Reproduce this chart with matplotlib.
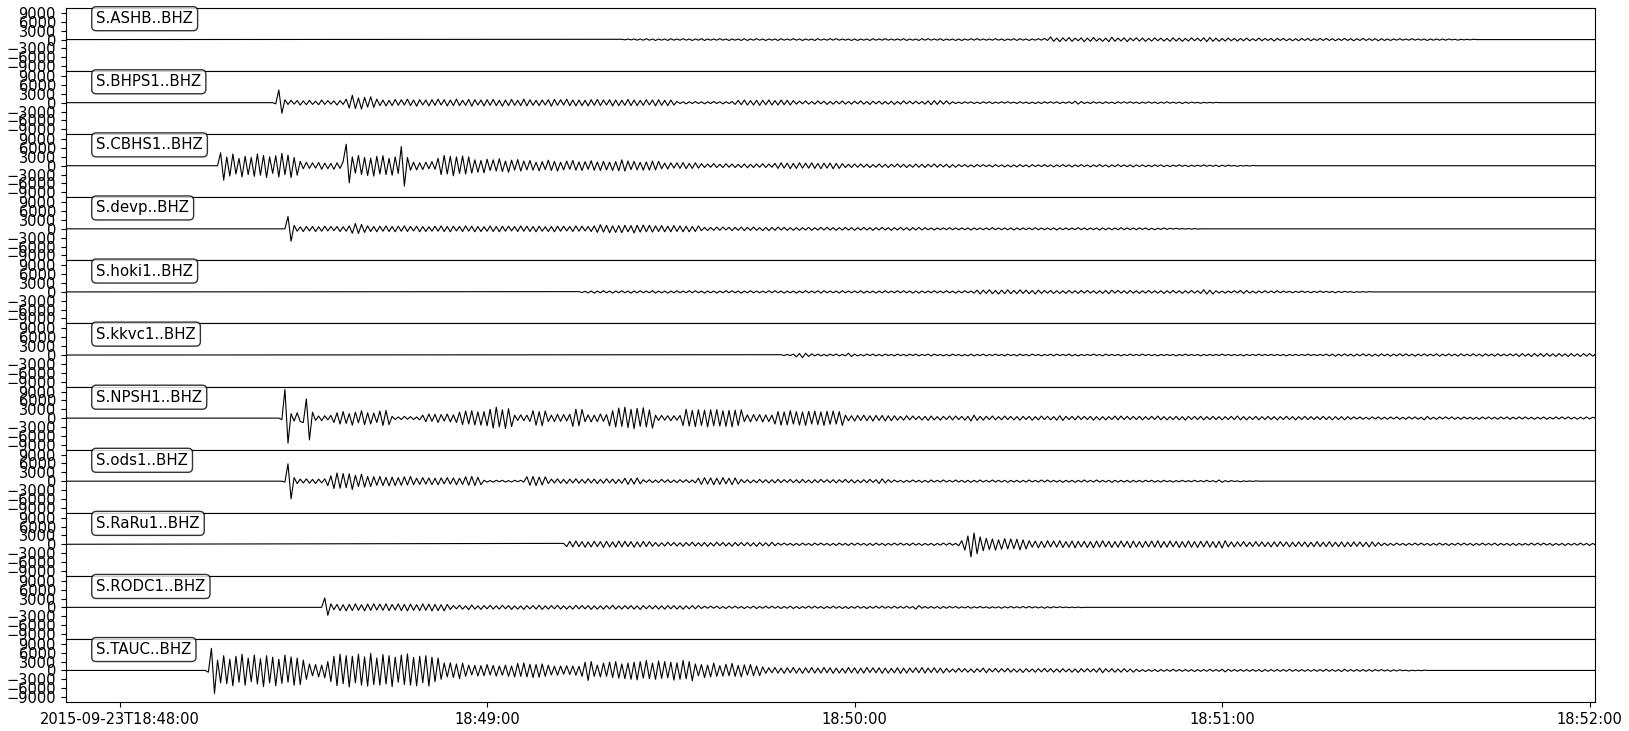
import numpy as np
import matplotlib
matplotlib.use("Agg")
import matplotlib.pyplot as plt

# ---------------------------------------------------------------- data
trace_ids = ["S.ASHB..BHZ", "S.BHPS1..BHZ", "S.CBHS1..BHZ", "S.devp..BHZ",
             "S.hoki1..BHZ", "S.kkvc1..BHZ", "S.NPSH1..BHZ", "S.ods1..BHZ",
             "S.RaRu1..BHZ", "S.RODC1..BHZ", "S.TAUC..BHZ"]

# time of first listed sample, seconds after 2015-09-23T18:48:00
onsets_s = [82.0, 25.0, 16.0, 27.0, 75.0, 108.0, 26.0, 26.5, 72.5, 33.0, 14.0]
sample_step_s = 0.5          # spacing of the listed (decimated) samples
window_s = (-8.8, 240.95)    # plotted time window
tick_seconds = [0, 60, 120, 180, 240]
tick_labels = ["2015-09-23T18:48:00", "18:49:00", "18:50:00", "18:51:00", "18:52:00"]
ytick_values = [-9000, -6000, -3000, 0, 3000, 6000, 9000]
y_limit = 10700

# samples in hundreds of counts
ashb_h = [
    1,-1,2,-1,2,-2,2,-2,3,-2, 2,-3,2,-2,2,-3,3,-2,2,-2, 3,-2,2,-3,2,-2,3,-3,2,-2,
    2,-2,3,-2,2,-3,2,-2,2,-3, 3,-3,2,-2,3,-2,2,-3,2,-2, 2,-3,3,-2,2,-2,3,-2,2,-3,
    2,-2,2,-3,3,-2,2,-2,3,-2, 3,-2,2,-2,2,-3,2,-3,2,-2, 2,-3,3,-2,2,-2,3,-2,2,-2,
    2,-2,3,-3,2,-2,2,-3,3,-2, 3,-2,2,-2,3,-3,2,-2,2,-3, 2,-3,2,-2,3,-2,3,-2,2,-2,
    2,-2,3,-2,2,-3,2,-2,3,-3, 3,-2,2,-3,2,-2,3,-2,4,-3, 9,-6,5,-7,6,-5,7,-6,5,-4,
    6,-7,5,-6,7,-5,4,-6,5,-7, 8,-6,5,-5,6,-7,5,-4,6,-5, 5,-6,4,-5,6,-4,5,-5,4,-6,
    6,-5,5,-6,4,-5,6,-4,5,-5, 6,-7,7,-6,5,-6,4,-5,5,-4, 4,-5,4,-4,5,-4,3,-4,5,-4,
    4,-3,4,-5,4,-3,4,-4,3,-4, 3,-4,4,-3,4,-4,3,-3,4,-3, 4,-3,3,-4,3,-3,4,-3,3,-4,
    3,-3,4,-3,3,-3,3,-4,3,-3, 2,-3,2,-2,3,-2,2,-2,3,-2, 2,-2,2,-3,2,-2,2,-2,2,-2,
    2,-1,1,-2,1,-1,1,-1,1,0]
bhps1_h = [
    0,-4,43,-36,10,-6,8,-5,7,-8, 6,-7,8,-6,5,-7,9,-6,7,-5, 6,-8,7,-6,12,-18,25,-20,16,-22,
    18,-15,20,-16,12,-10,9,-11,8,-10, 11,-9,10,-8,12,-10,9,-12,10,-8, 9,-11,10,-9,12,-8,10,-11,9,-10,
    12,-10,8,-9,11,-12,10,-8,9,-11, 10,-9,11,-10,8,-12,9,-10,11,-9, 8,-10,12,-11,10,-9,8,-10,9,-8,
    10,-12,11,-9,10,-8,12,-10,9,-11, 9,-10,8,-11,10,-9,11,-10,9,-8, 10,-11,9,-10,8,-9,11,-10,9,-10,
    8,-9,10,-8,9,-11,10,-9,8,-10, 9,-8,4,-3,3,-4,3,-3,4,-3, 3,-4,3,-3,4,-3,3,-4,3,-3,
    4,-6,8,-7,9,-8,7,-8,8,-9, 8,-7,9,-8,7,-8,9,-7,8,-8, 7,-5,5,-4,6,-5,4,-5,6,-4,
    5,-6,4,-5,5,-4,6,-5,4,-5, 5,-4,6,-5,4,-6,5,-4,5,-5, 4,-5,5,-6,4,-5,6,-4,5,-4,
    5,-4,4,-5,6,-7,7,-6,7,-5, 6,-5,3,-3,2,-3,3,-2,3,-3, 2,-3,3,-2,3,-3,2,-2,3,-2,
    3,-2,2,-3,3,-2,2,-3,2,-3, 2,-3,3,-2,3,-2,3,-3,2,-2, 3,-3,5,-5,4,-3,2,-3,3,-2,
    2,-3,3,-2,2,-3,3,-2,3,-2, 3,-2,2,-3,2,-2,3,-2,2,-3, 2,-2,3,-2,2,-2,2,-3,2,-2,
    2,-1,1,-2,1,-1,1,-1,1,0]
cbhs1_h = [
    0,44,-49,30,-35,40,-28,25,-38,32, -30,28,-36,40,-32,35,-40,30,-26,34,
    -38,42,-30,36,-40,28,-32,15,-10,12, -9,10,-8,11,-12,9,-10,8,-12,10,
    -9,14,73,-58,30,-25,35,-30,28,-33, 26,-35,32,-28,34,-30,25,-32,30,-26,
    65,-69,28,-15,12,-14,10,-13,12,-10, 14,-12,25,-30,35,-28,32,-34,30,-26,
    33,-28,30,-25,20,-22,18,-24,22,-16, 20,-18,24,-20,16,-22,19,-15,21,-18,
    16,-14,18,-15,12,-17,14,-13,19,-16, 15,-18,12,-14,16,-12,18,-15,13,-16,
    14,-12,17,-15,13,-16,15,-14,12,-16, 14,-17,20,-18,16,-13,15,-14,12,-15,
    13,-15,16,-14,15,-10,9,-11,10,-8, 10,-9,11,-10,8,-9,10,-8,7,-6,
    6,-5,7,-6,5,-6,7,-5,6,-6, 5,-6,6,-7,5,-6,6,-5,7,-6, 6,-5,8,-9,10,-8,9,-10,8,-9,
    10,-8,9,-8,10,-9,8,-10,9,-8, 9,-10,8,-9,7,-6,5,-6,6,-5, 6,-5,5,-6,4,-5,6,-5,5,-6,
    5,-4,6,-5,5,-6,4,-5,6,-5, 5,-6,5,-4,6,-5,5,-4,5,-6, 4,-5,4,-3,4,-4,3,-4,4,-3,
    4,-3,3,-4,4,-3,3,-4,3,-4, 3,-4,4,-3,3,-4,4,-3,3,-3, 4,-3,3,-4,3,-3,4,-3,3,-4,
    3,-3,4,-3,3,-4,3,-3,4,-3, 3,-4,3,-3,4,-3,3,-3,3,-4, 3,-3,3,-3,2,-3,3,-2,3,-3,
    2,-3,2,-2,3,-2,2,-3,2,-2, 2,-2,3,-2,2,-2,2,-3,2,-2, 2,-1,1,-2,1,-1,1,-1,1,0]
devp_h = [
    0,42,-42,12,-8,7,-9,8,-7,8, -9,7,-8,9,-7,8,-6,8,-9,7, -8,10,-15,18,-16,15,-12,10,-9,8,
    -10,9,-8,10,-9,8,-10,9,-8,10, -9,8,-7,9,-10,8,-9,7,-8,9, -8,10,-9,8,-10,9,-7,8,-9,10,
    -8,9,-10,8,-9,7,-8,10,-9,8, -10,9,-8,9,-7,8,-9,10,-8,9, -9,8,-10,9,-8,7,-9,8,-10,9,
    -8,9,-7,8,-9,10,-8,9,-7,8, -9,10,-12,14,-11,12,-13,10,-12,11, -13,12,-10,11,-14,12,-11,13,-10,12,
    -11,10,-9,11,-10,9,-10,11,-9,10, -10,9,-10,8,-9,10,-6,5,-6,5, -5,6,-5,6,-4,5,-6,5,-5,6,
    -6,5,-5,6,-5,4,-6,5,-6,5, -5,6,-4,5,-5,4,-5,4,-5,4, -4,5,-5,4,-4,5,-4,5,-4,4,
    -5,4,-4,5,-4,4,-5,4,-4,5, -4,4,-5,4,-4,5,-4,4,-5,4, -4,5,-4,4,-5,4,-4,5,-4,4,
    -3,3,-4,3,-3,3,-3,4,-3,3, -3,3,-3,3,-4,3,-3,3,-3,3, -3,4,-3,3,-3,3,-3,3,-4,3,
    -3,3,-3,3,-3,4,-3,3,-3,3, -3,3,-4,3,-3,3,-3,3,-3,4, -3,3,-3,3,-3,3,-4,3,-3,3,
    -3,3,-3,4,-3,3,-3,3,-3,3, -2,3,-3,2,-3,2,-2,3,-2,2, -1,2,-1,1,-1,1,-1,1,-1,0]
hoki1_h = [
    1,-2,2,-3,3,-4,3,-3,4,-3, 3,-4,3,-3,4,-3,3,-4,3,-3, 4,-3,3,-3,4,-4,3,-3,3,-4,
    3,-3,4,-3,3,-3,4,-3,4,-3, 3,-4,3,-3,3,-4,3,-3,4,-3, 4,-3,3,-4,3,-3,4,-3,3,-3,
    3,-3,4,-3,4,-3,3,-4,3,-3, 3,-4,3,-3,4,-3,3,-3,4,-4, 4,-3,3,-3,3,-4,4,-3,3,-3,
    3,-3,4,-4,3,-3,3,-4,3,-3, 4,-3,3,-3,4,-3,4,-3,3,-4, 3,-4,3,-3,3,-3,4,-3,3,-3,
    4,-3,3,-4,3,-3,4,-3,3,-4, 6,-7,6,-5,7,-6,5,-7,6,-6, 7,-6,5,-6,7,-5,6,-6,5,-7,
    6,-5,5,-4,5,-5,4,-5,4,-5, 5,-4,4,-5,5,-4,5,-4,4,-5, 4,-5,5,-6,6,-4,5,-4,4,-5,
    5,-4,4,-5,4,-4,5,-4,4,-4, 4,-5,4,-4,5,-4,4,-5,4,-4, 5,-4,4,-5,7,-7,6,-7,4,-4,
    3,-4,3,-3,4,-3,5,-5,5,-4, 3,-4,3,-3,4,-3,3,-3,4,-3, 3,-2,2,-3,2,-2,3,-2,2,-3,
    2,-2,3,-2,2,-2,2,-3,2,-2, 2,-1,1,-2,1,-1,1,-1,1,0]
kkvc1_h = [
    1,-2,2,-2,3,-6,5,-9,6,-5, 4,-3,3,-3,2,-3,3,-2,3,-3, 2,-3,6,-5,3,-3,2,-3,3,-2,
    3,-3,2,-3,3,-2,2,-3,3,-2, 2,-3,3,-2,3,-3,2,-2,3,-3, 3,-2,2,-3,2,-3,3,-2,2,-3,
    2,-3,3,-3,2,-2,3,-3,2,-2, 3,-2,2,-3,3,-2,2,-3,3,-2, 2,-3,3,-2,2,-3,2,-2,3,-3,
    3,-2,2,-2,3,-3,2,-3,2,-2, 2,-2,3,-2,2,-3,3,-2,2,-2, 2,-3,2,-2,3,-2,2,-2,3,-2,
    2,-2,2,-3,2,-2,2,-2,2,-3, 2,-2,3,-2,2,-2,2,-3,2,-2, 2,-2,2,-2,3,-2,2,-2,2,-2,
    2,-3,2,-2,2,-2,3,-2,2,-2, 2,-2,2,-2,2,-3,2,-2,2,-2, 2,-2,3,-2,2,-2,2,-2,3,-3,
    3,-4,3,-3,4,-3,3,-4,3,-3, 4,-3,3,-4,3,-4,4,-3,3,-4, 3,-3,4,-3,4,-3,3,-4,3,-3,
    4,-3,3,-3,4,-4,3,-3,4,-3, 3,-4,4,-3,3,-3,4,-3,3,-4, 4,-3,3,-4,4,-3,3,-3,4,-3,
    4,-5,5,-4,4,-5,5,-4,5,-5, 5,-4,4,-5,5,-4,4,-5,5,-4, 4,-5,5,-4,5,-4,4]
npsh1_h = [
    0,-5,97,-85,15,-10,18,-12,-15,65, -74,20,-8,7,-9,8,-6,9,-15,18,
    -20,22,-18,15,-24,20,-16,25,-22,18, -20,17,-15,24,-25,26,-22,6,-5,4,
    -5,6,-4,5,-5,4,-6,10,-12,14, -11,13,-15,12,-10,14,-13,11,-15,20,
    -22,24,-20,25,-23,21,-24,22,-26,30, -34,37,-30,28,-35,32,-29,10,-8,11,
    -9,10,-12,25,-24,22,-26,24,-12,10, -12,13,-11,12,-10,13,-28,30,-26,29,
    -12,11,-13,10,-12,14,-11,12,-26,25, -30,34,-28,37,-32,30,-36,33,-28,35,
    -30,28,-34,10,-8,9,-7,8,-9,8, -7,9,-25,30,-27,26,-29,28,-25,27,
    -30,28,-26,29,-27,25,-28,26,-30,27, -25,28,-12,11,-13,12,-10,12,-13,11,
    -12,10,-20,22,-24,21,-23,25,-20,22, -24,21,-25,23,-20,24,-22,21,-25,23,
    -21,24,-20,22,-25,10,-9,8,-10,9, -8,10,-9,8,-10,9,-8,9,-10,8,
    -9,8,-7,6,-7,8,-6,7,-5,6, -7,6,-8,7,-6,5,-7,6,-5,7, -6,7,-5,6,-7,6,-10,10,-8,6,
    -7,6,-5,7,-6,5,-6,7,-5,6, -6,5,-7,6,-5,6,-7,5,-6,7, -5,6,-6,5,-7,8,-8,6,-5,6,
    -6,7,-5,6,-5,6,-7,5,-6,5, -6,5,-5,7,-6,7,-5,6,-5,6, -5,6,-6,5,-5,6,-5,7,-6,5,
    -6,5,-5,6,-6,5,-7,6,-5,6, -5,6,-6,5,-5,6,-5,5,-6,5, -5,6,-5,7,-6,5,-6,5,-5,6,
    -6,5,-5,6,-5,5,-6,5,-5,6, -5,5,-6,5,-5,6,-5,5,-5,5, -5,6,-5,5,-6,5,-5,5,-6,5,
    -4,4,-3,4,-4,3,-4,4,-3,4, -4,3,-4,4,-3,4,-4,3,-4,4, -3,4,-4,3,-6,6,-4,3,-4,4,
    -3,4,-3,4,-4,3,-4,4,-3,3, -4,3,-4,4,-3,4,-3,3,-4,4, -3,4,-4,3,-3,4,-3,4,-3,3,
    -4,3,-3,4,-4,3,-3,4,-3,4, -3,4,-3,3,-4,3,-3,4,-3,3]
ods1_h = [
    0,-3,59,-60,12,-8,7,-6,8,-7, 6,-8,7,-6,8,-15,18,-25,28,-24,
    26,-22,25,-28,20,-18,24,-20,16,-18, 15,-14,16,-15,13,-16,14,-15,12,-14,
    15,-13,16,-12,10,-11,12,-10,11,-12, 10,-12,11,-9,12,-10,11,-12,10,-11,
    15,-14,16,-15,13,-12,3,-3,2,-3, 3,-2,3,-3,2,-3,3,-2,3,-3,
    15,-14,16,-15,14,-13,15,-8,7,-6, 8,-7,6,-8,7,-6,8,-7,6,-7,
    8,-6,7,-8,6,-7,8,-6,7,-8, 6,-7,10,-11,9,-10,11,-9,5,-4,
    5,-5,4,-5,6,-4,5,-5,4,-5, 5,-4,5,-5,4,-6,10,-11,12,-10,
    11,-12,10,-11,12,-9,10,-12,11,-10, 6,-5,5,-6,4,-5,6,-5,5,-6,
    5,-6,6,-5,5,-4,6,-5,5,-6, 6,-5,4,-6,5,-5,6,-4,5,-5, 5,-6,5,-4,6,-5,5,-6,4,-5,
    5,-5,6,-4,5,-8,8,-6,5,-4, 4,-3,3,-4,3,-3,4,-3,3,-4, 3,-4,4,-3,3,-3,4,-3,3,-3,
    4,-3,3,-4,3,-4,3,-3,4,-3, 3,-3,4,-3,3,-3,3,-4,3,-3, 3,-4,3,-3,4,-3,3,-3,4,-3,
    4,-3,3,-3,3,-4,3,-3,3,-4, 3,-3,4,-3,3,-3,4,-3,3,-3, 3,-4,3,-3,3,-3,3,-4,3,-3,
    3,-3,3,-2,3,-3,2,-3,3,-2, 2,-3,2,-2,3,-2,2,-2,3,-2, 2,-2,3,-2,2,-3,4,-4,2,-2,
    2,-1,1,-2,1,-1,1,-1,1,0]
raru1_h = [
    3,-8,10,-9,11,-8,9,-10,8,-9, 10,-8,9,-11,10,-9,8,-10,11,-9, 10,-8,9,-10,8,-9,10,-8,9,-7,
    6,-7,5,-6,7,-5,6,-6,5,-7, 6,-5,7,-6,5,-6,6,-7,5,-6, 7,-5,6,-6,5,-7,6,-5,6,-5,
    6,-6,5,-7,6,-5,5,-6,7,-5, 4,-3,4,-3,3,-4,3,-4,4,-3, 3,-4,4,-3,4,-3,3,-4,3,-4,
    4,-3,3,-4,4,-3,4,-3,3,-4, 3,-4,4,-3,3,-4,3,-3,4,-3, 4,-3,3,-4,4,-3,3,-4,3,-3,
    3,-4,3,-3,4,-3,4,-3,3,-5, 12,-20,28,-43,38,-32,25,-22,20,-18,
    18,-20,15,-17,19,-16,18,-15,17,-19, 15,-16,12,-10,11,-12,10,-11,12,-9,
    11,-10,12,-11,9,-10,11,-12,10,-9, 10,-11,9,-12,11,-10,12,-9,10,-11,
    9,-10,11,-9,10,-12,11,-10,9,-11, 10,-9,11,-10,12,-11,9,-10,11,-9,
    10,-11,9,-10,11,-10,9,-11,10,-9, 11,-10,9,-11,10,-13,12,-9,8,-9,
    8,-7,9,-8,7,-8,9,-7,8,-8, 7,-9,8,-8,9,-7,8,-9,7,-8, 8,-7,8,-9,7,-8,9,-8,7,-8,
    9,-8,7,-8,8,-9,7,-8,8,-7, 8,-8,7,-9,8,-7,6,-5,4,-4, 3,-4,4,-3,3,-4,3,-3,4,-3,
    4,-3,3,-4,3,-3,4,-3,3,-4, 3,-3,4,-3,4,-3,3,-4,3,-3, 4,-3,3,-3,4,-4,3,-3,3,-4,
    3,-4,3,-3,3,-3,4,-3,4,-3, 4,-3,3,-4,3,-3,3,-4,3,-3, 3,-3,4,-3,3,-4,3,-3]
rodc1_h = [
    0,32,-27,12,-8,10,-11,9,-12,10, -11,12,-10,9,-12,11,-10,12,-9,11,
    -10,12,-11,10,-9,12,-11,10,-12,11, -10,9,-11,12,-10,11,-12,10,-11,9,
    -12,10,-7,6,-5,7,-6,5,-8,8, -6,5,-7,6,-5,7,-6,5,-6,7, -5,6,-7,5,-6,5,-7,6,-5,6,
    -6,7,-7,5,-6,6,-5,7,-6,5, -6,5,-6,7,-5,6,-5,6,-7,5, -6,5,-6,6,-5,7,-6,5,-6,6,
    -5,6,-6,5,-7,6,-5,6,-5,6, -6,5,-6,6,-5,6,-6,5,-6,5, -5,6,-5,6,-4,4,-3,4,-3,4,
    -4,3,-4,4,-3,4,-3,3,-4,3, -3,4,-4,3,-3,4,-3,4,-3,3, -4,3,-3,4,-4,3,-4,3,-3,4,
    -3,4,-3,3,-4,3,-3,4,-3,3, -4,3,-4,3,-3,4,-3,3,-4,3, -3,4,-3,4,-3,3,-3,4,-3,3,
    -3,4,-3,3,-6,6,-3,3,-3,3, -3,3,-4,3,-3,3,-2,3,-3,2, -2,3,-3,2,-2,3,-2,2,-3,2,
    -2,2,-3,2,-2,3,-2,2,-2,3, -2,3,-2,2,-2,2,-3,2,-2,2, -1,2,-1,1,-1,1,-1,1,-1,0]
tauc_h = [
    0,-6,75,-78,35,-42,50,-45,38,-52, 48,-40,55,-50,42,-38,52,-46,40,-55,
    50,-42,45,-52,38,-44,52,-40,46,-50, 42,-48,35,-30,22,-18,20,-22,18,-25,
    30,-38,48,-52,55,-45,50,-56,48,-42, 55,-50,46,-53,58,-48,42,-50,54,-46,
    50,-55,45,-40,52,-48,56,-50,44,-52, 48,-42,50,-53,45,-38,42,-30,25,-22,
    26,-24,22,-28,25,-20,18,-15,17,-19, 16,-18,20,-15,17,-19,15,-16,18,-20,
    15,-22,24,-20,25,-22,21,-24,20,-23, 22,-20,18,-15,14,-16,15,-13,16,-14,
    15,-16,14,-20,28,-34,30,-20,18,-22, 25,-20,28,-24,30,-26,22,-28,25,-30,
    28,-32,30,-26,34,-28,25,-30,32,-27, 30,-25,28,-33,26,-30,34,-28,30,-35,
    22,-18,20,-24,18,-22,25,-20,16,-19, 21,-18,24,-20,17,-22,19,-16,20,-18,
    15,-18,12,-10,9,-8,10,-9,8,-10, 9,-8,10,-9,8,-10,9,-8,10,-9,
    8,-9,10,-8,9,-10,8,-9,7,-9, 10,-8,9,-10,8,-9,10,-7,9,-8, 9,-10,8,-9,7,-8,9,-10,8,-9,
    8,-7,9,-8,10,-9,8,-7,9,-8, 8,-9,7,-6,5,-6,7,-5,6,-6, 5,-7,6,-5,8,-8,6,-5,7,-6,
    6,-5,7,-6,5,-6,5,-7,6,-5, 5,-6,6,-5,7,-5,6,-6,5,-6, 6,-5,5,-6,5,-7,6,-5,6,-5,
    5,-6,8,-8,6,-5,6,-6,5,-6, 6,-5,5,-6,4,-4,3,-4,3,-3, 3,-4,3,-3,3,-3,4,-3,3,-3,
    3,-3,3,-4,3,-3,3,-3,4,-3, 3,-3,4,-5,4,-3,3,-3,3,-3, 3,-3,3,-3,3,-4,3,-3,3,-3,
    3,-3,3,-3,4,-3,3,-3,3,-3, 3,-3,3,-3,3,-3,4,-3,3,-3, 3,-4,4,-3,3,-3,3,-3,3,-3,
    3,-3,3,-2,3,-2,2,-3,2,-2, 2,-1,1,-2,1,-1,1,-1,1,0]

samples_h = [ashb_h, bhps1_h, cbhs1_h, devp_h, hoki1_h, kkvc1_h,
             npsh1_h, ods1_h, raru1_h, rodc1_h, tauc_h]

# ---------------------------------------------------------------- plot
plt.rcParams["font.family"] = "DejaVu Sans"

fig = plt.figure(figsize=(16.29, 7.31), dpi=100)
gs = fig.add_gridspec(len(trace_ids), 1, left=0.0403, right=0.9794,
                      top=0.989, bottom=0.0397, hspace=0)

axes = []
for i, (tid, onset, vals) in enumerate(zip(trace_ids, onsets_s, samples_h)):
    ax = fig.add_subplot(gs[i], sharex=axes[0] if axes else None)
    axes.append(ax)
    counts = np.asarray(vals, dtype=float) * 100.0
    times = onset + sample_step_s * np.arange(len(counts))
    t = np.concatenate([[window_s[0]], times, [window_s[1]]])
    y = np.concatenate([[0.0], counts, [0.0]])
    ax.plot(t, y, color="k", lw=0.8)
    ax.set_ylim(-y_limit, y_limit)
    ax.set_yticks(ytick_values)
    ax.tick_params(axis="y", labelsize=10.5)
    ax.text(0.02, 0.95, tid, transform=ax.transAxes, fontsize=10.8,
            ha="left", va="top",
            bbox=dict(boxstyle="round", fc="w", ec="k", alpha=0.8))
    if i < len(trace_ids) - 1:
        ax.tick_params(axis="x", bottom=False, labelbottom=False)

axes[0].set_xlim(*window_s)
axes[-1].set_xticks(tick_seconds)
axes[-1].set_xticklabels(tick_labels)
axes[-1].tick_params(axis="x", labelsize=10.5)

fig.savefig("out.png", dpi=100)
